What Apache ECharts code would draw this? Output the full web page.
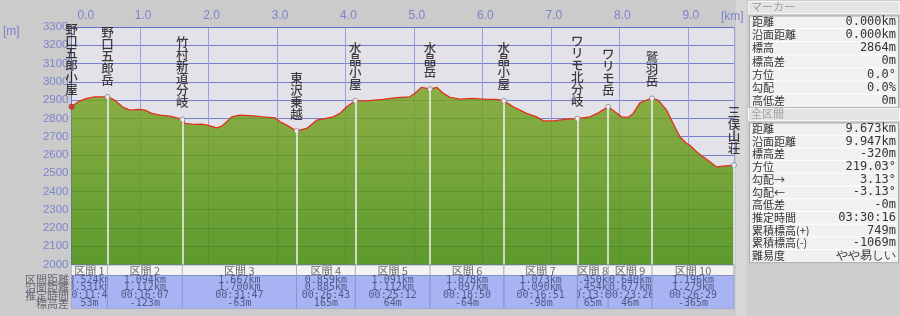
<!DOCTYPE html>
<html>
<head>
<meta charset="utf-8">
<script src="https://cdn.jsdelivr.net/npm/echarts@6/dist/echarts.min.js"></script>
<style>
  html, body { margin: 0; padding: 0; background: #cbcbcb; }
  #chart { width: 900px; height: 316px; }
</style>
</head>
<body>
<div id="chart"></div>
<script>
// elevation profile (km along route, metres)
const profileKm = [0, 0.099, 0.222, 0.343, 0.416, 0.524, 0.610, 0.683, 0.756, 0.854, 1.000, 1.073, 1.171, 1.292, 1.438, 1.618,
  1.657, 1.778, 1.901, 1.997, 2.120, 2.193, 2.266, 2.339, 2.460, 2.654, 2.800, 2.971, 3.044, 3.142, 3.238, 3.285,
  3.434, 3.580, 3.701, 3.822, 3.920, 4.018, 4.144, 4.309, 4.552, 4.747, 4.942, 5.015, 5.112, 5.235, 5.331, 5.428,
  5.526, 5.672, 5.866, 6.061, 6.207, 6.313, 6.450, 6.645, 6.791, 6.888, 7.034, 7.229, 7.386, 7.569, 7.691, 7.836,
  7.934, 8.032, 8.128, 8.201, 8.299, 8.397, 8.476, 8.566, 8.689, 8.785, 8.883, 8.980, 9.029, 9.127, 9.223, 9.321,
  9.418, 9.515, 9.673];
const profileElev = [2864, 2891, 2909, 2918, 2918, 2917, 2904, 2882, 2860, 2845, 2849, 2845, 2827, 2818, 2812, 2794,
  2772, 2767, 2768, 2761, 2748, 2757, 2781, 2808, 2818, 2814, 2808, 2803, 2781, 2763, 2741, 2731,
  2745, 2790, 2799, 2808, 2827, 2863, 2896, 2896, 2904, 2913, 2918, 2937, 2970, 2960, 2970, 2937,
  2915, 2905, 2909, 2904, 2904, 2896, 2863, 2827, 2808, 2786, 2786, 2796, 2798, 2808, 2830, 2863,
  2836, 2808, 2805, 2827, 2885, 2900, 2909, 2900, 2845, 2772, 2699, 2663, 2653, 2617, 2589, 2562,
  2534, 2538, 2544];

const totalKm = 9.673;
const startElev = 2864;

// way points and sections
const markerNames = ['野口五郎小屋', '野口五郎岳', '竹村新道分岐', '東沢乗越', '水晶小屋', '水晶岳',
  '水晶小屋', 'ワリモ北分岐', 'ワリモ岳', '鷲羽岳', '三俣山荘'];
const sectionDist = [0.524, 1.094, 1.667, 0.859, 1.091, 1.078, 1.073, 0.450, 0.640, 1.196];
const sectionSurf = [0.531, 1.112, 1.700, 0.885, 1.112, 1.097, 1.090, 0.454, 0.677, 1.279];
const sectionTime = ['00:11:46', '00:16:07', '00:31:47', '00:26:43', '00:25:12', '00:18:50',
  '00:16:51', '00:13:05', '00:23:26', '00:26:29'];
const sectionDiff = [53, -123, -63, 165, 64, -64, -98, 65, 46, -365];
const tableRowNames = ['区間距離', '沿面距離', '推定時間', '標高差'];

// side panel
const markerInfoLabels = ['距離', '沿面距離', '標高', '標高差', '方位', '勾配', '高低差'];
const markerInfoValues = ['0.000km', '0.000km', '2864m', '0m', '0.0°', '0.0%', '0m'];
const totalInfoLabels = ['距離', '沿面距離', '標高差', '方位', '勾配→', '勾配←', '高低差', '推定時間',
  '累積標高(+)', '累積標高(-)', '難易度'];
const totalInfoValues = ['9.673km', '9.947km', '-320m', '219.03°', '3.13°', '-3.13°', '-0m', '03:30:16',
  '749m', '-1069m', 'やや易しい'];

// marker positions from the section table
const markerKm = [0];
const markerElev = [startElev];
sectionDist.forEach((d, i) => {
  markerKm.push(+(markerKm[i] + d).toFixed(3));
  markerElev.push(markerElev[i] + sectionDiff[i]);
});

const sections = sectionDist.map((d, i) => [markerKm[i], markerKm[i + 1]]);

const axisBlue = '#7d84cc';
const monoFont = '"DejaVu Sans Mono", monospace';
const jpFont = '"Noto Sans CJK JP", sans-serif';

function renderSection(params, api) {
  const i = params.dataIndex;
  const cs = params.coordSys;
  const x0 = api.coord([api.value(0), 0])[0];
  const x1 = api.coord([api.value(1), 0])[0];
  const w = x1 - x0;
  const cx = (x0 + x1) / 2;
  const top = cs.y;
  const hh = 10.5;
  const lines = [sectionDist[i].toFixed(3) + 'km', sectionSurf[i].toFixed(3) + 'km', sectionTime[i], sectionDiff[i] + 'm'];
  const children = [
    { type: 'rect', shape: { x: x0, y: top, width: w, height: hh },
      style: { fill: '#f3f3f3', stroke: '#a9a9b8', lineWidth: 1 } },
    { type: 'rect', shape: { x: x0, y: top + hh, width: w, height: cs.height - hh },
      style: { fill: '#a7b3f2', stroke: '#8490cc', lineWidth: 1 } },
    { type: 'text', style: { text: '区間 ' + (i + 1), x: cx, y: top + hh / 2 + 0.5, align: 'center', verticalAlign: 'middle',
      font: '11px ' + jpFont, fill: '#6a6a6a' } }
  ];
  lines.forEach((t, k) => {
    children.push({ type: 'text', style: { text: t, x: cx, y: top + hh + 4.5 + k * 7.9, align: 'center',
      verticalAlign: 'middle', font: '10px ' + monoFont, fill: '#4f5a88' } });
  });
  return {
    type: 'group',
    clipPath: { type: 'rect', shape: { x: x0, y: top, width: w + 0.5, height: cs.height } },
    children: children
  };
}

function panelGraphics() {
  const g = [];
  g.push({ type: 'rect', left: 736, top: 0, shape: { width: 10, height: 316 }, style: { fill: '#d8d8d8' }, silent: true });
  g.push({ type: 'rect', left: 746, top: 0, shape: { width: 154, height: 316 }, style: { fill: '#cfcfcf' }, silent: true });

  function block(title, y, labels, values, rowH) {
    g.push({ type: 'rect', left: 748, top: y, shape: { width: 151, height: 12 },
      style: { fill: '#e4e4e4', stroke: '#f6f6f6' } });
    g.push({ type: 'text', left: 751, top: y, style: { text: title, font: '11px ' + jpFont, fill: '#a0a0a0' } });
    const ty = y + 14.5;
    g.push({ type: 'rect', left: 749, top: ty, shape: { width: 149, height: rowH * labels.length },
      style: { fill: '#f1f1f1', stroke: '#a8a8a8' } });
    labels.forEach((l, k) => {
      const ry = ty + k * rowH;
      if (k > 0) {
        g.push({ type: 'line', shape: { x1: 750, y1: ry, x2: 897, y2: ry }, style: { stroke: '#ffffff', lineWidth: 1 } });
      }
      g.push({ type: 'text', x: 752, y: ry + rowH / 2,
        style: { text: l, font: '11px ' + jpFont, fill: '#353535', verticalAlign: 'middle' } });
      g.push({ type: 'text', x: 896, y: ry + rowH / 2,
        style: { text: values[k], font: '12px ' + monoFont, fill: '#353535', align: 'right', verticalAlign: 'middle' } });
    });
  }
  block('マーカー', 1, markerInfoLabels, markerInfoValues, 13.1);
  block('全区間', 108, totalInfoLabels, totalInfoValues, 12.7);

  // axis units
  g.push({ type: 'text', x: 721, y: 17, style: { text: '[km]', font: '12px "Liberation Sans", sans-serif', fill: axisBlue, verticalAlign: 'middle' } });
  g.push({ type: 'text', x: 3, y: 32, style: { text: '[m]', font: '12px "Liberation Sans", sans-serif', fill: axisBlue, verticalAlign: 'middle' } });

  // table row names
  tableRowNames.forEach((t, k) => {
    g.push({ type: 'text', x: 69, y: 280 + k * 7.9,
      style: { text: t, font: '11px ' + jpFont, fill: '#6a6a78', align: 'right', verticalAlign: 'middle' } });
  });
  return g;
}

const chart = echarts.init(document.getElementById('chart'), null, { renderer: 'canvas' });

const option = {
  animation: false,
  backgroundColor: '#cbcbcb',
  grid: [
    { left: 71.5, top: 27, width: 662.5, height: 237.5, show: true, backgroundColor: '#e2e2e8', borderWidth: 0 },
    { left: 71.5, top: 265, width: 662.5, height: 43.5 }
  ],
  xAxis: [
    {
      type: 'value', gridIndex: 0, position: 'top', min: 0, max: totalKm, interval: 1,
      axisLine: { show: true, lineStyle: { color: '#6a72c8' } },
      axisTick: { show: false },
      axisLabel: { color: axisBlue, fontSize: 12, fontFamily: 'Liberation Sans', margin: 5,
        padding: [0, 0, 0, 6], showMaxLabel: false, alignMinLabel: 'left',
        formatter: (v) => v.toFixed(1) },
      splitLine: { show: true, lineStyle: { color: '#9aa0dc', width: 1 } }
    },
    { type: 'value', gridIndex: 1, min: 0, max: totalKm, show: false }
  ],
  yAxis: [
    {
      type: 'value', gridIndex: 0, min: 2000, max: 3300, interval: 100,
      axisLine: { show: true, lineStyle: { color: '#6a72c8' } },
      axisTick: { show: false },
      axisLabel: { color: axisBlue, fontSize: 11.5, fontFamily: 'Liberation Sans', margin: 3,
        formatter: (v) => String(v) },
      splitLine: { show: true, lineStyle: { color: '#7880cc', width: 1 } }
    },
    { type: 'value', gridIndex: 1, min: 0, max: 1, show: false }
  ],
  series: [
    {
      name: '標高',
      type: 'line',
      xAxisIndex: 0, yAxisIndex: 0,
      data: profileKm.map((k, i) => [k, profileElev[i]]),
      symbol: 'none',
      lineStyle: { color: '#e2301e', width: 1.3 },
      areaStyle: {
        origin: 'start',
        opacity: 0.82,
        color: new echarts.graphic.LinearGradient(0, 0, 0, 1, [
          { offset: 0, color: '#77a321' },
          { offset: 1, color: '#418a05' }
        ])
      },
      z: 2
    },
    {
      name: 'ポイント',
      type: 'scatter',
      xAxisIndex: 0, yAxisIndex: 0,
      data: markerNames.map((n, i) => ({
        value: [markerKm[i], markerElev[i]],
        name: n,
        itemStyle: i === 0 ? { color: '#e2301e', borderColor: '#a02020' } : undefined
      })),
      symbol: 'circle',
      symbolSize: 5,
      itemStyle: { color: '#ffffff', borderColor: '#7a7a7a', borderWidth: 1 },
      label: {
        show: true,
        position: 'top',
        distance: 8,
        formatter: (p) => p.name.split('').join('\n'),
        color: '#111111',
        fontSize: 12.5,
        lineHeight: 12,
        fontFamily: 'Noto Sans CJK JP',
        fontWeight: 500,
        align: 'center'
      },
      markLine: {
        silent: true,
        symbol: ['none', 'none'],
        label: { show: false },
        lineStyle: { color: '#f2f2f2', width: 1.5, type: 'solid' },
        data: markerKm.slice(1).map((k, i) => [
          { coord: [k, markerElev[i + 1]] },
          { coord: [k, 2000] }
        ])
      },
      z: 4
    },
    {
      name: '区間',
      type: 'custom',
      xAxisIndex: 1, yAxisIndex: 1,
      data: sections,
      renderItem: renderSection,
      silent: true
    }
  ],
  graphic: panelGraphics()
};

chart.setOption(option);
</script>
</body>
</html>
